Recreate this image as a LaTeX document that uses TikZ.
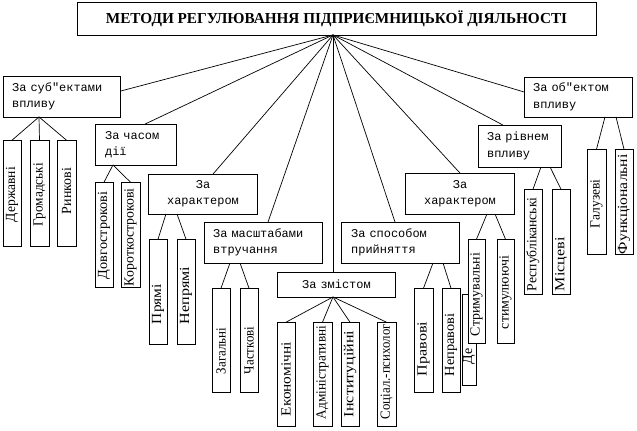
\documentclass[tikz,border=0pt]{standalone}
\usepackage{fontspec}
\usepackage{graphicx}
\setmainfont{Liberation Serif}
\newfontfamily\monof{Liberation Mono}
\newcommand\VB[8]{%
  \node[vb, minimum width={#4-#2}, minimum height={#5-#3}] (#1) at ({(#2+#4)/2},{(#3+#5)/2}) {};
  \node[vt] (#1t) at ({(#2+#4)/2},#6) {\scalebox{#8}[1]{#7}};}
\begin{document}
\begin{tikzpicture}[x=1bp,y=-1bp,
  every node/.style={inner sep=0pt, outer sep=0pt},
  ln/.style={line width=0.7bp, draw=black},
  hb/.style={draw=black, line width=0.7bp, fill=white,
    font=\monof\fontsize{12}{16.5}\selectfont, inner ysep=0pt},
  vb/.style={draw=black, line width=0.7bp, fill=white},
  vt/.style={rotate=90, anchor=west, font=\fontsize{14}{14}\selectfont, inner sep=0pt},
  ttl/.style={draw=black, line width=0.7bp, fill=white,
    font=\bfseries\fontsize{15.3}{15.3}\selectfont}
]
\useasboundingbox (0,0) rectangle (637,430);
% title
\node[ttl, minimum width=521, minimum height=33] (T) at (336.5,18.5)
  {МЕТОДИ РЕГУЛЮВАННЯ ПІДПРИЄМНИЦЬКОЇ ДІЯЛЬНОСТІ};
\coordinate (hub) at ([xshift=-3.5bp]T.south);
% category boxes
\node[hb, align=left, inner xsep=9bp, text width=100, minimum height=41] (A) at (62,96.5) {За суб"ектами\\впливу};
\node[hb, align=left, inner xsep=10bp, text width=61, minimum height=41] (B) at (135.5,144.5) {За часом\\дії};
\node[hb, align=center, inner xsep=5bp, text width=100, minimum height=40] (C) at (203,194) {За\\характером};
\node[hb, align=left, inner xsep=9bp, text width=101, minimum height=41] (D) at (263.5,242.5) {За масштабами\\втручання};
\node[hb, align=center, inner xsep=5bp, text width=109, minimum height=25] (E) at (336.5,284.5) {За змістом};
\node[hb, align=left, inner xsep=10bp, text width=99, minimum height=41] (F) at (400.5,242.5) {За способом\\прийняття};
\node[hb, align=center, inner xsep=5bp, text width=100, minimum height=41] (G) at (460,193.5) {За\\характером};
\node[hb, align=left, inner xsep=9bp, text width=65, minimum height=42] (H) at (519.5,146) {За рівнем\\впливу};
\node[hb, align=left, inner xsep=9bp, text width=91, minimum height=40] (I) at (578.5,97) {За об"ектом\\впливу};
% hub connectors
\draw[ln] (hub) -- ([yshift=5.5bp]A.east);
\draw[ln] (hub) -- ([xshift=9.5bp]B.north);
\draw[ln] (hub) -- ([xshift=10bp]C.north);
\draw[ln] (hub) -- ([xshift=4.5bp]D.north);
\draw[ln] (hub) -- (hub |- E.north);
\draw[ln] (hub) -- ([xshift=-5.5bp]F.north);
\draw[ln] (hub) -- (G.north);
\draw[ln] (hub) -- ([xshift=-16.5bp]H.north);
\draw[ln] (hub) -- ([yshift=5bp]I.west);
% leaf boxes
\VB{A1}{3}{140}{21}{247}{222}{Державні}{0.97}
\VB{A2}{30}{140}{49}{247}{226}{Громадські}{0.95}
\VB{A3}{57}{140}{76}{247}{214}{Ринкові}{1}
\VB{B1}{95}{182}{113}{288}{279}{Довгострокові}{1.02}
\VB{B2}{121}{182}{140}{288}{286}{Короткострокові}{0.99}
\VB{C1}{149}{239}{167}{345}{324}{Прямі}{1.1}
\VB{C2}{177}{239}{195}{345}{324}{Непрямі}{1.15}
\VB{D1}{212}{288}{230}{393}{374}{Загальні}{0.93}
\VB{D2}{240}{288}{258}{393}{374}{Часткові}{0.93}
\VB{E1}{277}{322}{295}{427}{416}{Економічні}{1.1}
\VB{E2}{313}{322}{332}{427}{419}{Адміністративні}{0.95}
\VB{E3}{341}{322}{359}{427}{417}{Інституційні}{1.15}
\VB{E4}{377}{322}{396}{427}{419}{Соціал.-психолог}{0.92}
\VB{F1}{414}{288}{433}{393}{376}{Правові}{1.15}
\VB{F2}{442}{288}{460}{393}{376}{Неправові}{1.03}
\VB{F3}{462}{294}{476}{386}{364}{Де}{1}
\VB{G1}{468}{239}{485}{344}{336}{Стримувальні}{1}
\VB{G2}{497}{239}{514}{344}{329}{стимулюючі}{1}
\VB{H1}{524}{189}{542}{295}{291}{Республіканські}{0.98}
\VB{H2}{552}{189}{570}{295}{291}{Місцеві}{1.15}
\VB{I1}{587}{149}{606}{255}{228}{Галузеві}{0.97}
\VB{I2}{615}{149}{633}{255}{254}{Функціональні}{1.12}
% child connectors
\draw[ln] ([xshift=-23bp]A.south) -- (A1.north);
\draw[ln] ([xshift=-23bp]A.south) -- (A2.north);
\draw[ln] ([xshift=-23bp]A.south) -- (A3.north);
\draw[ln] ([xshift=-22.5bp]B.south) -- (B1.north);
\draw[ln] ([xshift=-22.5bp]B.south) -- (B2.north);
\draw[ln] ([xshift=-37bp]C.south) -- (C1.north);
\draw[ln] ([xshift=-26bp]C.south) -- (C2.north);
\draw[ln] ([xshift=-33.5bp]D.south) -- (D1.north);
\draw[ln] ([xshift=-23.5bp]D.south) -- (D2.north);
\draw[ln] (hub |- E.south) -- (E1.north);
\draw[ln] (hub |- E.south) -- (E2.north);
\draw[ln] (hub |- E.south) -- (E3.north);
\draw[ln] (hub |- E.south) -- (E4.north);
\draw[ln] ([xshift=32.5bp]F.south) -- (F1.north);
\draw[ln] ([xshift=42.5bp]F.south) -- (F2.north);
\draw[ln] ([xshift=27bp]G.south) -- (G1.north);
\draw[ln] ([xshift=35bp]G.south) -- (G2.north);
\draw[ln] ([xshift=21.5bp]H.south) -- (H1.north);
\draw[ln] ([xshift=30.5bp]H.south) -- (H2.north);
\draw[ln] ([xshift=26.5bp]I.south) -- (I1.north);
\draw[ln] ([xshift=37.5bp]I.south) -- (I2.north);
\end{tikzpicture}
\end{document}
